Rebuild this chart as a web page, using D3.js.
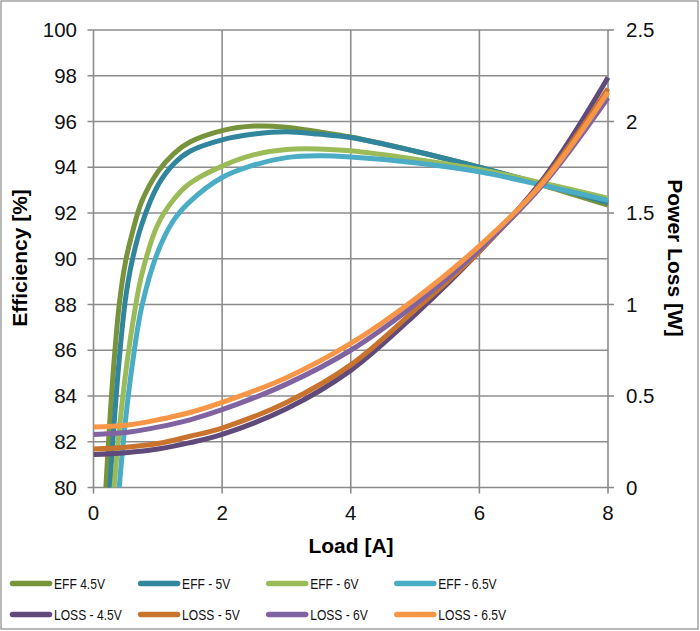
<!DOCTYPE html>
<html><head><meta charset="utf-8">
<script src="https://cdn.jsdelivr.net/npm/d3@7"></script>
<style>body{margin:0;background:#fff;} svg{display:block;font-family:"Liberation Sans",Arial,sans-serif;}</style>
</head><body>
<svg id="c" width="700" height="631"></svg>
<script>
// ---- data ----
const effLoad = [0.1,0.2,0.3,0.4,0.5,0.6,0.75,1,1.25,1.5,2,2.5,3,3.5,4,5,6,7,8];
const eff45 = [75,80.4,84.8,88,89.9,91.1,92.5,93.8,94.6,95.1,95.6,95.8,95.75,95.55,95.32,94.7,94.0,93.2,92.34];
const eff5  = [72,77.5,82,85.6,88.3,89.9,91.5,93.2,94.15,94.7,95.2,95.45,95.55,95.45,95.3,94.7,94.0,93.25,92.45];
const eff6  = [70,75,79.3,82.5,85,87,89.3,91.5,92.6,93.3,94.05,94.55,94.78,94.8,94.72,94.35,93.9,93.3,92.65];
const eff65 = [66,71,76,80,83,85.3,87.9,90.3,91.7,92.5,93.55,94.1,94.42,94.5,94.45,94.2,93.8,93.2,92.55];
const lossLoad = [0,0.5,1,1.5,2,3,4,5,6,7,8];
const loss45 = [0.18,0.19,0.21,0.245,0.29,0.43,0.64,0.945,1.29,1.69,2.24];
const loss5  = [0.21,0.22,0.24,0.28,0.325,0.465,0.67,0.97,1.29,1.68,2.18];
const loss6  = [0.29,0.30,0.33,0.37,0.425,0.565,0.75,1.0,1.30,1.66,2.13];
const loss65 = [0.33,0.34,0.37,0.41,0.465,0.60,0.787,1.03,1.32,1.67,2.16];
const seriesNames = ["EFF 4.5V","EFF - 5V","EFF - 6V","EFF - 6.5V","LOSS - 4.5V","LOSS - 5V","LOSS - 6V","LOSS - 6.5V"];
const seriesColors = ["#77933c","#31859c","#9bbb59","#4bacc6","#604a7b","#c8742f","#8064a2","#f79646"];
const xTicks = [0,2,4,6,8];
const yLeftTicks = [80,82,84,86,88,90,92,94,96,98,100];
const yRightTicks = [0,0.5,1,1.5,2,2.5];

// ---- layout ----
const svg = d3.select("#c");
const L = 93.5, R = 608, T = 30, B = 487.5;
const x = d3.scaleLinear().domain([0,8]).range([L,R]);
const yL = d3.scaleLinear().domain([80,100]).range([B,T]);
const yR = d3.scaleLinear().domain([0,2.5]).range([B,T]);
const gridCol = "#8c8c8c";

svg.append("rect").attr("x",1).attr("y",1).attr("width",697).attr("height",628)
  .attr("fill","#fff").attr("stroke","#8a8a8a").attr("stroke-width",1.2);

// grid
const g = svg.append("g");
g.selectAll(".hg").data(yLeftTicks).join("line")
  .attr("x1",L-6).attr("x2",R).attr("y1",d=>yL(d)).attr("y2",d=>yL(d))
  .attr("stroke",gridCol).attr("stroke-width",1.6);
g.selectAll(".vg").data(xTicks).join("line")
  .attr("x1",d=>x(d)).attr("x2",d=>x(d)).attr("y1",T).attr("y2",B+6)
  .attr("stroke",gridCol).attr("stroke-width",1.6);
g.selectAll(".rt").data(yRightTicks).join("line")
  .attr("x1",R).attr("x2",R+6).attr("y1",d=>yR(d)).attr("y2",d=>yR(d))
  .attr("stroke",gridCol).attr("stroke-width",1.6);

// tick labels
svg.selectAll(".yl").data(yLeftTicks).join("text")
  .attr("x",77).attr("y",d=>yL(d)+7).attr("text-anchor","end")
  .attr("font-size",20.5).attr("fill","#111").text(d=>d);
svg.selectAll(".yr").data(yRightTicks).join("text")
  .attr("x",626).attr("y",d=>yR(d)+7).attr("text-anchor","start")
  .attr("font-size",20.5).attr("fill","#111").text(d=>d);
svg.selectAll(".xl").data(xTicks).join("text")
  .attr("x",d=>x(d)).attr("y",520).attr("text-anchor","middle")
  .attr("font-size",20.5).attr("fill","#111").text(d=>d);

// axis titles
svg.append("text").attr("x",351).attr("y",553).attr("text-anchor","middle")
  .attr("font-size",21).attr("font-weight","bold").text("Load [A]");
svg.append("text").attr("transform","translate(27,258) rotate(-90)").attr("text-anchor","middle")
  .attr("font-size",21).attr("font-weight","bold").text("Efficiency [%]");
svg.append("text").attr("transform","translate(668,258) rotate(90)").attr("text-anchor","middle")
  .attr("font-size",21).attr("font-weight","bold").text("Power Loss [W]");

// clip
svg.append("clipPath").attr("id","clip").append("rect")
  .attr("x",L).attr("y",T-5).attr("width",R-L+5).attr("height",B-T+5);

const effSeries = [eff45,eff5,eff6,eff65];
const lossSeries = [loss45,loss5,loss6,loss65];
const lineEff = d3.line().x(d=>x(d[0])).y(d=>yL(d[1])).curve(d3.curveCatmullRom.alpha(0.5));
const lineLoss = d3.line().x(d=>x(d[0])).y(d=>yR(d[1])).curve(d3.curveCatmullRom.alpha(0.5));
const plot = svg.append("g").attr("clip-path","url(#clip)");
effSeries.forEach((s,i)=>{
  plot.append("path").attr("d",lineEff(effLoad.map((l,j)=>[l,s[j]])))
    .attr("fill","none").attr("stroke",seriesColors[i]).attr("stroke-width",5)
    .attr("stroke-linejoin","round");
});
lossSeries.forEach((s,i)=>{
  plot.append("path").attr("d",lineLoss(lossLoad.map((l,j)=>[l,s[j]])))
    .attr("fill","none").attr("stroke",seriesColors[4+i]).attr("stroke-width",5)
    .attr("stroke-linejoin","round");
});

// legend
const leg = svg.append("g");
seriesNames.forEach((n,i)=>{
  const col = i%4, row = Math.floor(i/4);
  const lx = 12.5 + col*128.1, ly = 583.5 + row*31;
  leg.append("line").attr("x1",lx).attr("x2",lx+37).attr("y1",ly).attr("y2",ly)
    .attr("stroke",seriesColors[i]).attr("stroke-width",5.5).attr("stroke-linecap","round");
  leg.append("text").attr("transform",`translate(${lx+41.5},${ly+5.5}) scale(0.78,1)`)
    .attr("font-size",15.5).attr("fill","#111").text(n);
});
</script>
</body></html>
